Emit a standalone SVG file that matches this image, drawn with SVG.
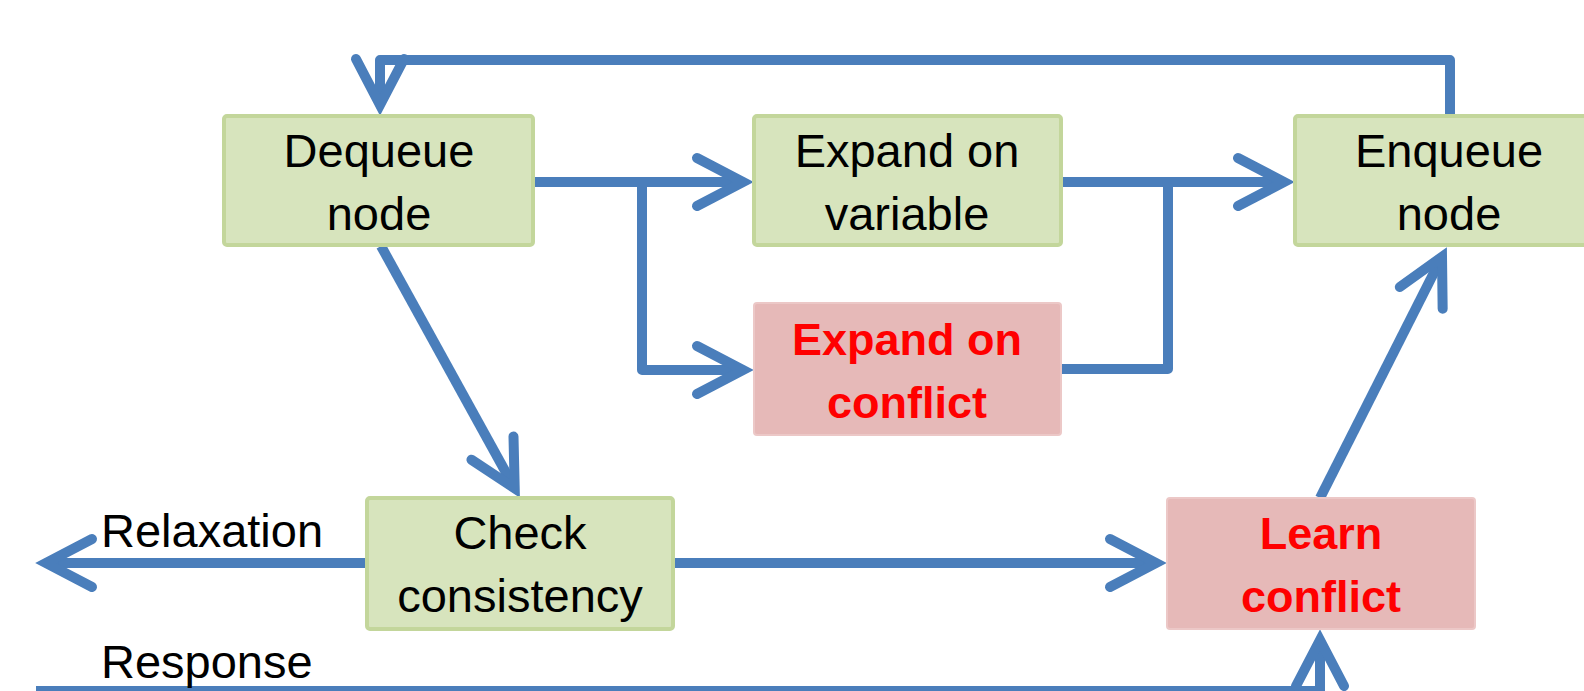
<svg xmlns="http://www.w3.org/2000/svg" width="1584" height="691" viewBox="0 0 1584 691">
<style>
.g{fill:#d7e4bd;stroke:#c3d69b;stroke-width:4}
.p{fill:#e6b9b8;stroke:#ecc8c7;stroke-width:2}
.t{font-family:"Liberation Sans",Arial,sans-serif;font-size:47px;fill:#000;text-anchor:middle}
.r{font-family:"Liberation Sans",Arial,sans-serif;font-size:45px;font-weight:bold;fill:#ff0000;text-anchor:middle}
.l{font-family:"Liberation Sans",Arial,sans-serif;font-size:47px;fill:#000}
.c{fill:none;stroke:#4a7ebb;stroke-width:10;stroke-linejoin:round}
</style>
<defs>
<marker id="ah" markerUnits="userSpaceOnUse" markerWidth="80" markerHeight="80" orient="auto" overflow="visible" refX="0" refY="0">
<path d="M-46,-24 L0,0 L-46,24" fill="none" stroke="#4a7ebb" stroke-width="10" stroke-linecap="round" stroke-linejoin="miter"/>
</marker>
</defs>
<rect width="1584" height="691" fill="#fff"/>
<g id="connectors">
<path class="c" d="M1450,116 V60 H380 V105" marker-end="url(#ah)"/>
<path class="c" d="M533,182 H743" marker-end="url(#ah)"/>
<path class="c" d="M642,182 V370 H743" marker-end="url(#ah)"/>
<path class="c" d="M1061,182 H1284" marker-end="url(#ah)"/>
<path class="c" d="M1061,369 H1168 V182"/>
<path class="c" d="M381,246 L514.7,488.4" marker-end="url(#ah)"/>
<path class="c" d="M367,563 H46" marker-end="url(#ah)"/>
<path class="c" d="M673,563 H1156" marker-end="url(#ah)"/>
<path class="c" d="M1320,498 L1442,256.8" marker-end="url(#ah)"/>
<path class="c" d="M36,691 H1320 V640" marker-end="url(#ah)"/>
</g>
<g id="dequeue">
<rect class="g" x="224" y="116" width="309" height="129" rx="3"/>
<text class="t" x="379" y="167">Dequeue</text>
<text class="t" x="379" y="230">node</text>
</g>
<g id="expand-variable">
<rect class="g" x="754" y="116" width="307" height="129" rx="3"/>
<text class="t" x="907" y="167">Expand on</text>
<text class="t" x="907" y="230">variable</text>
</g>
<g id="enqueue">
<rect class="g" x="1295" y="116" width="307" height="129" rx="3"/>
<text class="t" x="1449" y="167">Enqueue</text>
<text class="t" x="1449" y="230">node</text>
</g>
<g id="expand-conflict">
<rect class="p" x="754" y="303" width="307" height="132" rx="3"/>
<text class="r" x="907" y="355">Expand on</text>
<text class="r" x="907" y="418">conflict</text>
</g>
<g id="check">
<rect class="g" x="367" y="498" width="306" height="131" rx="3"/>
<text class="t" x="520" y="549">Check</text>
<text class="t" x="520" y="612">consistency</text>
</g>
<g id="learn">
<rect class="p" x="1167" y="498" width="308" height="131" rx="3"/>
<text class="r" x="1321" y="549">Learn</text>
<text class="r" x="1321" y="612">conflict</text>
</g>
<g id="labels">
<text class="l" x="101" y="547">Relaxation</text>
<text class="l" x="101" y="678">Response</text>
</g>
</svg>
